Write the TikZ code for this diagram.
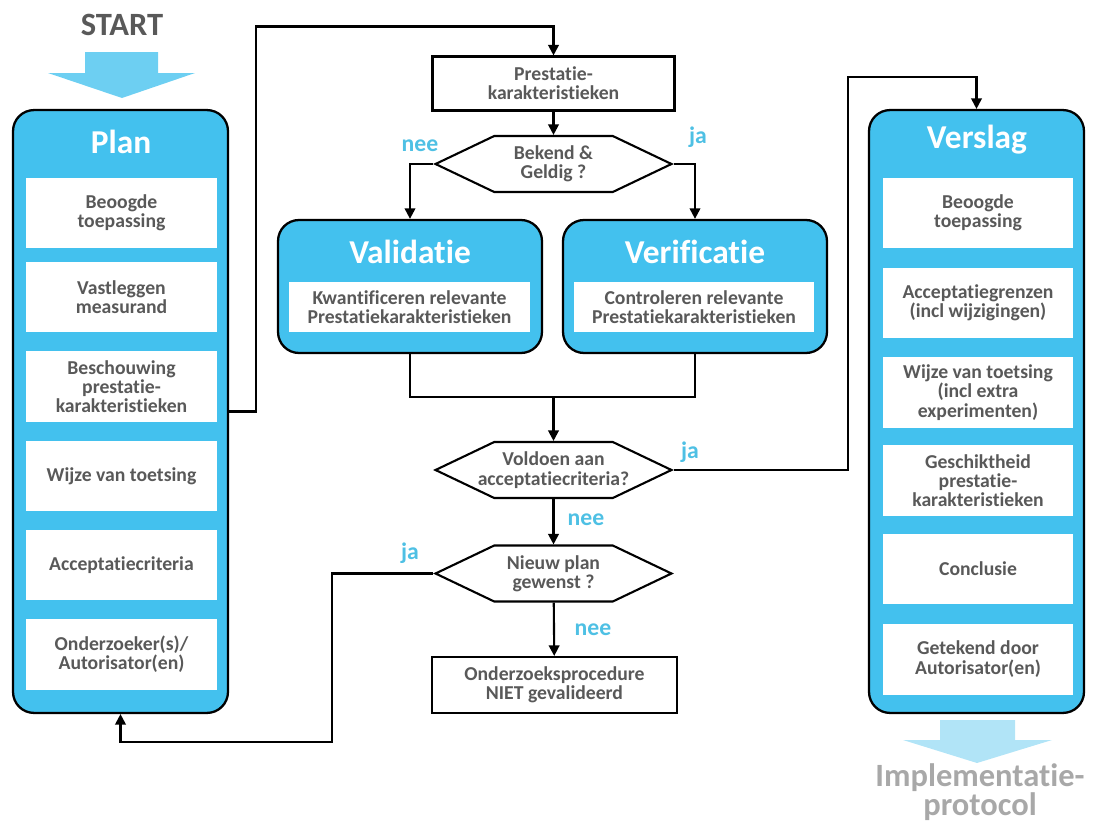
\documentclass[tikz,border=0pt]{standalone}
\usepackage{fontspec}
\setmainfont{Carlito}[RawFeature=-liga]
\usepackage{xcolor}
\usetikzlibrary{arrows.meta,shapes.symbols}

\definecolor{fillblue}{RGB}{67,193,238}
\definecolor{startblue}{RGB}{109,207,242}
\definecolor{endblue}{RGB}{177,228,247}
\definecolor{txtgray}{RGB}{89,89,89}
\definecolor{lblblue}{RGB}{78,192,228}
\definecolor{implgray}{RGB}{168,168,168}

\begin{document}
\begin{tikzpicture}[x=0.02cm,y=-0.02cm,
  phase/.style={draw=black,line width=1.3pt,fill=fillblue,rounded corners=0.42cm,
    minimum width=4.3cm,minimum height=12.06cm},
  midphase/.style={draw=black,line width=1.3pt,fill=fillblue,rounded corners=0.42cm,
    minimum width=5.28cm,minimum height=2.66cm},
  phasetitle/.style={text=white,font=\bfseries\fontsize{19}{21}\selectfont},
  item/.style={fill=white,text=txtgray,align=center,inner sep=0pt,
    font=\bfseries\fontsize{11.2}{11}\selectfont,minimum height=1.42cm},
  stepbox/.style={draw=black,line width=1.2pt,fill=white,text=txtgray,align=center,
    font=\bfseries\fontsize{11.2}{11}\selectfont,minimum width=4.84cm,minimum height=1.08cm},
  qtext/.style={text=txtgray,align=center,font=\bfseries\fontsize{11.2}{11}\selectfont},
  question/.style={draw=black,line width=1.2pt,fill=white,shape=signal,signal to=west and east,
    signal pointer angle=51,minimum width=4.72cm,minimum height=1.12cm,inner sep=0pt,
    label={[qtext]center:#1}},
  answer/.style={text=lblblue,font=\bfseries\fontsize{13.5}{15}\selectfont},
  arr/.style={line width=1.2pt,-{Triangle[length=6pt,width=6pt]}},
  line/.style={line width=1.2pt}]
\useasboundingbox (0,0) rectangle (1103,825);

\node[text=txtgray,font=\bfseries\fontsize{18.5}{20}\selectfont] (start) at (122,25) {START};
\fill[startblue] (85,52) -- (158,52) -- (158,73) -- (195,73) -- (122,98) -- (48,73) -- (85,73) -- cycle;

\node[phase] (plan) at (120.5,411.5) {};
\node[phasetitle] (plantitle) at (121,142) {Plan};
\node[item,minimum width=3.82cm] (p1) at (121.5,213) {Beoogde\\toepassing};
\node[item,minimum width=3.82cm] (p2) at (121.5,297) {Vastleggen\\measurand};
\node[item,minimum width=3.82cm] (p3) at (121.5,386.5) {Beschouwing\\prestatie-\\karakteristieken};
\node[item,minimum width=3.82cm] (p4) at (121.5,476) {Wijze van toetsing};
\node[item,minimum width=3.82cm] (p5) at (121.5,565) {Acceptatiecriteria};
\node[item,minimum width=3.82cm] (p6) at (121.5,654) {Onderzoeker(s)/\\Autorisator(en)};

\node[phase] (vers) at (976.5,411.5) {};
\node[phasetitle] (verstitle) at (977,140) {Verslag};
\node[item,minimum width=3.8cm] (v1) at (978,213) {Beoogde\\toepassing};
\node[item,minimum width=3.8cm] (v2) at (978,303) {Acceptatiegrenzen\\(incl wijzigingen)};
\node[item,minimum width=3.8cm] (v3) at (978,392.5) {Wijze van toetsing\\(incl extra\\experimenten)};
\node[item,minimum width=3.8cm] (v4) at (978,480.5) {Geschiktheid\\prestatie-\\karakteristieken};
\node[item,minimum width=3.8cm] (v5) at (978,569) {Conclusie};
\node[item,minimum width=3.8cm] (v6) at (978,659) {Getekend door\\Autorisator(en)};

\fill[endblue] (940,720) -- (1015,720) -- (1015,740) -- (1052,740) -- (977,763) -- (903,740) -- (940,740) -- cycle;
\node[text=implgray,align=center,font=\bfseries\fontsize{18.5}{14}\selectfont] (impl) at (980,792) {Implementatie-\\protocol};

\node[stepbox] (prest) at (553.5,83.5) {Prestatie-\\karakteristieken};
\node[question={Bekend \&\\Geldig ?}] (q1) at (553.5,164) {};

\node[midphase] (vali) at (410,286.5) {};
\node[phasetitle] (valititle) at (410,252) {Validatie};
\node[item,minimum width=4.82cm,minimum height=1cm] (valitxt) at (409.5,307) {Kwantificeren relevante\\Prestatiekarakteristieken};

\node[midphase] (veri) at (695,286.5) {};
\node[phasetitle] (verititle) at (695,252) {Verificatie};
\node[item,minimum width=4.82cm,minimum height=1cm] (veritxt) at (694,307) {Controleren relevante\\Prestatiekarakteristieken};

\coordinate (join) at (553.5,397);
\node[question={Voldoen aan\\acceptatiecriteria?}] (q2) at (553.5,470) {};
\node[question={Nieuw plan\\gewenst ?}] (q3) at (553.5,573.5) {};
\node[stepbox,minimum width=4.9cm,minimum height=1.12cm] (fail) at (554.5,685) {Onderzoeksprocedure\\NIET gevalideerd};

\draw[arr] (plan.east) -- ++(27,0) |- ([yshift=0.58cm]prest.north) -- (prest.north);
\draw[arr] (prest) -- (q1);
\draw[arr] (q1.west) -| (vali.north);
\draw[arr] (q1.east) -| (veri.north);
\draw[line] (vali.south) |- (join) -| (veri.south);
\draw[arr] (join) -- (q2);
\draw[arr] (q2) -- (q3);
\draw[arr] (q2.east) -- (q2.east -| 848,0) |- ([yshift=0.64cm]vers.north) -- (vers.north);
\draw[arr] (q3) -- (fail);
\draw[arr] (q3.west) -- (q3.west -| 332,0) |- ([yshift=-0.56cm]plan.south) -- (plan.south);

\node[answer] (nee1) at (420,146) {nee};
\node[answer] (ja1) at (698,137) {ja};
\node[answer] (ja2) at (690,452) {ja};
\node[answer] (nee2) at (586,520) {nee};
\node[answer] (ja3) at (410,553) {ja};
\node[answer] (nee3) at (593,630) {nee};
\end{tikzpicture}
\end{document}
